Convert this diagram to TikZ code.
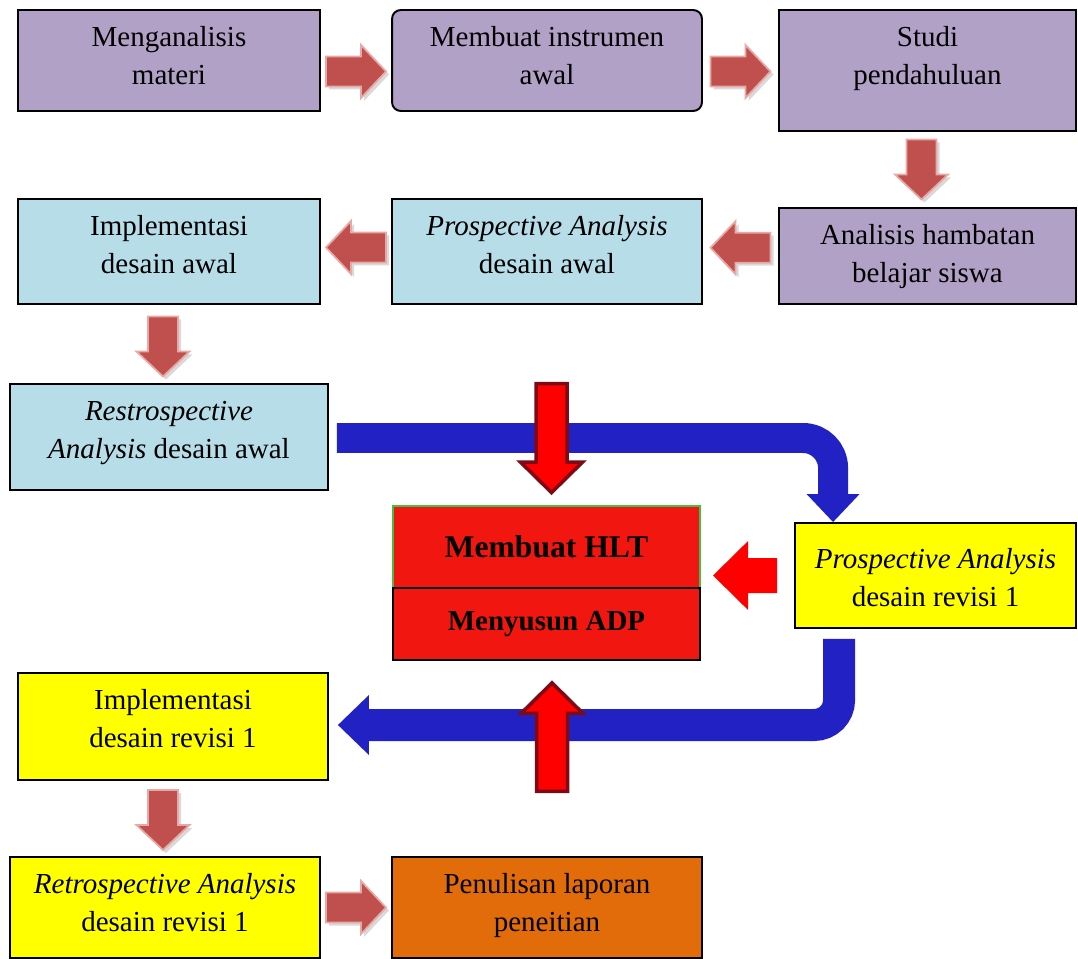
\documentclass[tikz,border=0pt]{standalone}
\usepackage{fontspec}
\setmainfont{Liberation Serif}
\usetikzlibrary{calc}

\definecolor{ungu}{RGB}{178,161,199}
\definecolor{birumuda}{RGB}{183,221,232}
\definecolor{kuning}{RGB}{255,255,0}
\definecolor{oranye}{RGB}{227,108,10}
\definecolor{merah}{RGB}{242,22,16}
\definecolor{panah}{RGB}{192,80,77}
\definecolor{panahtepi}{RGB}{232,168,166}
\definecolor{alur}{RGB}{34,34,196}
\definecolor{merahtua}{RGB}{125,10,20}
\definecolor{hijau}{RGB}{70,190,70}

% text block, top aligned inside a box of given size
\newcommand{\boxtext}[3]{\parbox[c][#2][t]{#1}{\centering\rule{0pt}{21pt}#3}}
% small block arrow between two boxes
\newcommand{\smallarrow}[2]{%
  \fill[gray!30,shift={(#1)},shift={(3,3)},rotate=#2] (-30,-15) -- (5,-15) -- (5,-26.5) -- (30,0) -- (5,26.5) -- (5,15) -- (-30,15) -- cycle;
  \draw[sarrow,shift={(#1)},rotate=#2] (-30,-15) -- (5,-15) -- (5,-26.5) -- (30,0) -- (5,26.5) -- (5,15) -- (-30,15) -- cycle;}

\begin{document}
\begin{tikzpicture}[x=0.02cm,y=-0.02cm]
\tikzstyle{box}=[draw,line width=1.1pt,inner sep=0pt,font=\fontsize{16.5}{21.5}\selectfont]
\tikzstyle{sarrow}=[fill=panah,draw=panahtepi,line width=1pt]
\tikzstyle{flow}=[draw=alur,line width=0.6cm,rounded corners=0.6cm]
\tikzstyle{bigred}=[fill=red,draw=merahtua,line width=2pt]
\useasboundingbox (0,0) rectangle (1078,959);

% First stage
\node (MA) [box,fill=ungu] at (169,60.5) {\boxtext{6.04cm}{2.02cm}{Menganalisis\\materi}};
\node (MI) [box,fill=ungu,rounded corners=5pt] at (547,60.5) {\boxtext{6.2cm}{2.02cm}{Membuat instrumen\\awal}};
\node (SP) [box,fill=ungu] at (927.5,70.5) {\boxtext{5.94cm}{2.42cm}{Studi\\pendahuluan}};
\node (AH) [box,fill=ungu] at (927.5,256) {\boxtext{5.94cm}{1.92cm}{Analisis hambatan\\belajar siswa}};
\node (PA) [box,fill=birumuda] at (547,251.5) {\boxtext{6.2cm}{2.1cm}{\textit{Prospective Analysis}\\desain awal}};
\node (IA) [box,fill=birumuda] at (169,251.5) {\boxtext{6.04cm}{2.1cm}{Implementasi\\desain awal}};
\node (RA) [box,fill=birumuda] at (169,437) {\boxtext{6.36cm}{2.12cm}{\textit{Restrospective}\\\textit{Analysis} desain awal}};

% HLT and ADP
\node (HLT) [draw=hijau,line width=1pt,fill=merah,minimum width=6.14cm,minimum height=1.64cm,font=\fontsize{18}{22}\selectfont\bfseries] at (546.5,547) {Membuat HLT};
\node (ADP) [draw,line width=1.6pt,fill=merah,minimum width=6.14cm,minimum height=1.44cm,font=\fontsize{16.5}{20}\selectfont\bfseries] at (546.5,624) {Menyusun ADP};

% Revision stage
\node (PR) [box,fill=kuning] at (935.5,575.5) {\boxtext{5.62cm}{2.1cm}{\rule{0pt}{26pt}\textit{Prospective Analysis}\\desain revisi 1}};
\node (IR) [box,fill=kuning] at (173,726.5) {\boxtext{6.2cm}{2.14cm}{Implementasi\\desain revisi 1}};
\node (RR) [box,fill=kuning] at (165,907.5) {\boxtext{6.2cm}{2.02cm}{\textit{Retrospective Analysis}\\desain revisi 1}};
\node (PL) [box,fill=oranye] at (547,907.5) {\boxtext{6.2cm}{2.02cm}{Penulisan laporan\\peneitian}};

% Small arrows
\coordinate (A1) at ($(MA.east)!0.5!(MI.west)+(0,11)$);
\coordinate (A2) at ($(MI.east)!0.5!(SP.west)+(0,6)$);
\coordinate (A3) at ($(SP.south)!0.5!(AH.north)+(-6,0)$);
\coordinate (A4) at ($(AH.west)!0.5!(PA.east)+(0,-6)$);
\coordinate (A5) at ($(PA.west)!0.5!(IA.east)+(0,-4)$);
\coordinate (A6) at ($(IA.south)!0.5!(RA.north)+(-6,2.5)$);
\coordinate (A7) at ($(IR.south)!0.5!(RR.north)+(-6,1.5)$);
\coordinate (A8) at ($(RR.east)!0.5!(PL.west)$);
\smallarrow{A1}{0}
\smallarrow{A2}{0}
\smallarrow{A3}{-90}
\smallarrow{A4}{180}
\smallarrow{A5}{180}
\smallarrow{A6}{-90}
\smallarrow{A7}{-90}
\smallarrow{A8}{0}

% Blue flow arrows
\coordinate (TB) at ($(PR.north west)+(39,0)$);
\draw[flow] ($(RA.east)+(8,1)$) -| ($(TB)+(0,-27)$);
\fill[alur] ($(TB)+(-26.5,-28)$) -- ($(TB)+(26.5,-28)$) -- (TB) -- cycle;
\coordinate (SB) at ($(PR.south west)+(45,10)$);
\coordinate (TL) at ($(IR.east)+(9,-1.5)$);
\draw[flow,line width=0.64cm,rounded corners=0.5cm] (SB) |- ($(TL)+(30,0)$);
\fill[alur] (TL) -- ($(TL)+(31,-30)$) -- ($(TL)+(31,30)$) -- cycle;

% Red arrows into HLT/ADP
\coordinate (DA) at ($(HLT.north)+(5,-10)$);
\coordinate (UA) at ($(ADP.south)+(5.5,19)$);
\coordinate (LA) at ($(PR.west)+(-81,0)$);
\draw[bigred,shift={(DA)}] (0,-2.5) -- (-31,-33) -- (-15.5,-33) -- (-15.5,-111.5) -- (15.5,-111.5) -- (15.5,-33) -- (31,-33) -- cycle;
\draw[bigred,shift={(UA)}] (0,2.5) -- (-31,33) -- (-15.5,33) -- (-15.5,111) -- (15.5,111) -- (15.5,33) -- (31,33) -- cycle;
\fill[red] (LA) -- ++(35,-34.5) -- ++(0,17) -- ++(29,0) -- ++(0,35) -- ++(-29,0) -- ++(0,17) -- cycle;

\end{tikzpicture}
\end{document}
